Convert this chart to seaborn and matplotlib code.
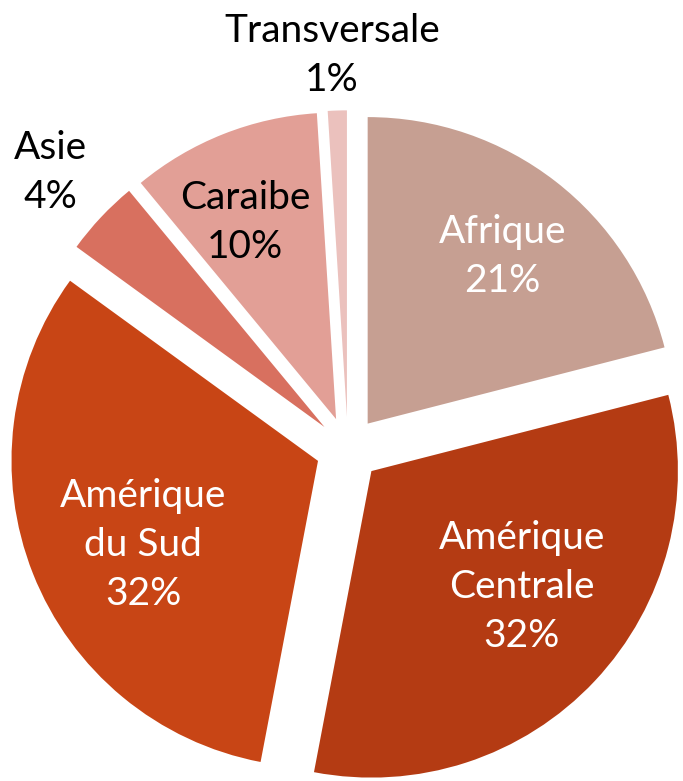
import numpy as np
import matplotlib
matplotlib.use("Agg")
import matplotlib.pyplot as plt
import seaborn as sns

regions = ["Afrique", "Amérique\nCentrale", "Amérique\ndu Sud", "Asie", "Caraibe", "Transversale"]
shares = [21, 32, 32, 4, 10, 1]
colors = ["#C69F92", "#B43B13", "#C84515", "#D8705F", "#E29F96", "#EBC1BD"]
text_colors = ["white", "white", "white", "black", "black", "black"]
# label placement: distance from slice centre (radius units), angle nudge (deg)
label_dist = [0.70, 0.62, 0.633, 1.222, 0.708, 1.181]
label_turn = [-1.1, 5.6, 4.0, 0.3, 3.2, 0.6]

sns.set_theme(style="white")
plt.rcParams["font.family"] = ["Lato", "DejaVu Sans"]

fig = plt.figure(figsize=(6.83, 7.81), dpi=100)
ax = fig.add_axes([0, 0, 1, 1])

expl = 0.105
wedges, _ = ax.pie(shares, colors=colors, startangle=90, counterclock=False,
                   explode=[expl] * len(shares), radius=1,
                   wedgeprops=dict(linewidth=0))

for w, name, val, tc, d, t in zip(wedges, regions, shares, text_colors, label_dist, label_turn):
    ang = np.deg2rad((w.theta1 + w.theta2) / 2 + t)
    cx, cy = w.center
    x = cx + d * np.cos(ang)
    y = cy + d * np.sin(ang)
    ax.text(x, y, f"{name}\n{val}%", ha="center", va="center", color=tc,
            fontsize=28, linespacing=1.45)

ax.set_aspect("equal")
ax.set_xlim(-1.135, 1.093)
ax.set_ylim(-1.083, 1.465)
ax.axis("off")

fig.savefig("out.png", dpi=100)
